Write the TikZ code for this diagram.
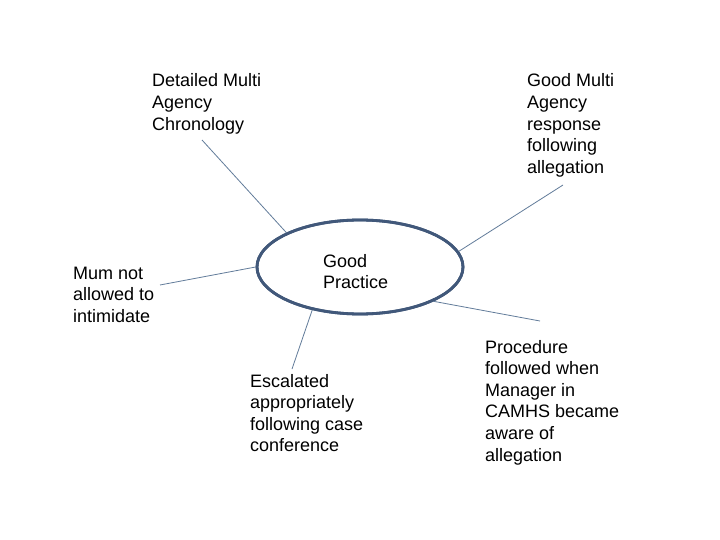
\documentclass[tikz,border=0pt]{standalone}
\usepackage{fontspec}
\setmainfont{Liberation Sans}
\usetikzlibrary{shapes.geometric}
\definecolor{ringcol}{HTML}{41587A}
\definecolor{linkcol}{HTML}{627C9A}
\tikzset{
  lbl/.style={anchor=base west, inner sep=0pt, font=\fontsize{18}{21.6}\selectfont},
  link/.style={draw=linkcol, line width=0.8pt},
  ring/.style={ellipse, draw=ringcol, line width=2.8pt, fill=white, minimum width=206pt, minimum height=94pt, inner sep=0pt}
}
\newcommand{\blk}[1]{\begin{tabular}[t]{@{}l@{}}#1\end{tabular}}
\begin{document}
\begin{tikzpicture}[x=1pt,y=-1pt]
\useasboundingbox[fill=white] (0,0) rectangle (720,540);
\node[ring] (gp) at (360,267) {};
\node[lbl] (gpt) at (323,267) {\blk{Good\\Practice}};
\node[lbl] (t1) at (152,87) {\blk{Detailed Multi\\Agency\\Chronology}};
\node[lbl] (t2) at (527,87) {\blk{Good Multi\\Agency\\response\\following\\allegation}};
\node[lbl] (t3) at (73,279) {\blk{Mum not\\allowed to\\intimidate}};
\node[lbl] (t4) at (250,387) {\blk{Escalated\\appropriately\\following case\\conference}};
\node[lbl] (t5) at (485,353) {\blk{Procedure\\followed when\\Manager in\\CAMHS became\\aware of\\allegation}};
\coordinate (e1) at (202,140);
\coordinate (e2) at (563,185);
\coordinate (e3) at (160,285);
\coordinate (e4) at (292,369);
\coordinate (e5) at (540,321);
\draw[link] (e1) -- (gp.155);
\draw[link] (e2) -- (gp.9);
\draw[link] (e3) -- (gp.180);
\draw[link] (e4) -- (gp.222);
\draw[link] (e5) -- (gp.335);
\node[ring, fill=none] at (gp.center) {};
\end{tikzpicture}
\end{document}
